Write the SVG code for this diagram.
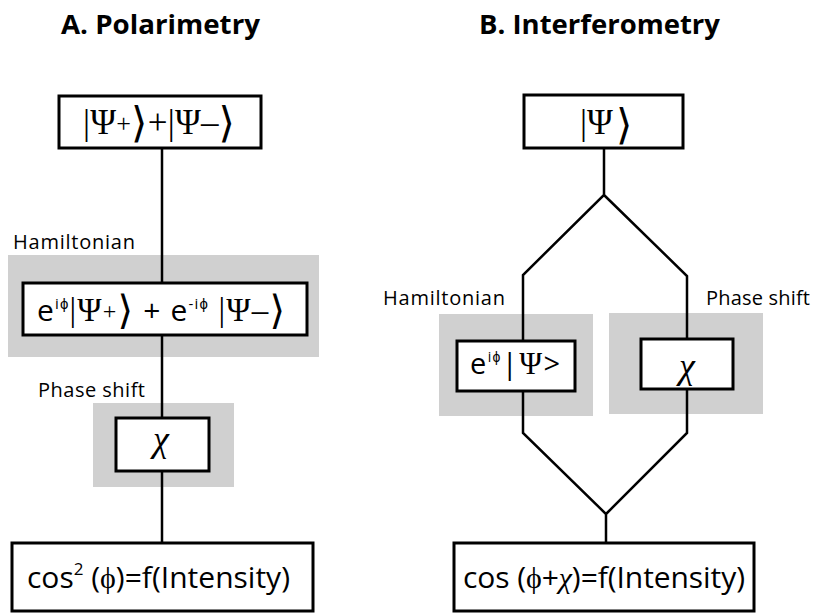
<svg xmlns="http://www.w3.org/2000/svg" width="815" height="614" viewBox="0 0 815 614">
<style>
.shade{fill:#d0d0d0}
.box{fill:#fff;stroke:#000;stroke-width:3}
.wire{fill:none;stroke:#000;stroke-width:2.5;stroke-linejoin:miter;stroke-miterlimit:10}
.title{font-family:'Open Sans','Liberation Sans',sans-serif;font-weight:bold;font-size:27px;fill:#000}
.lbl{font-family:'Open Sans','Liberation Sans',sans-serif;font-size:20px;fill:#000}
.sans{font-family:'Open Sans','Liberation Sans',sans-serif;fill:#000}
.ser{font-family:'Liberation Serif','DejaVu Serif',serif}
.br{font-family:'DejaVu Sans','Liberation Serif',serif}
</style>
<rect width="815" height="614" fill="#fff"/>
<g id="titles">
<text class="title" x="61" y="34" textLength="199" lengthAdjust="spacingAndGlyphs">A. Polarimetry</text>
<text class="title" x="479" y="34" textLength="241" lengthAdjust="spacingAndGlyphs">B. Interferometry</text>
</g>
<g id="a-input">
<rect class="box" x="59" y="96" width="202" height="52"/>
<text class="ser" x="83" y="134" font-size="35" textLength="152">|Ψ<tspan font-size="26" dy="-2">+</tspan><tspan class="br" font-size="42" dy="5">⟩</tspan><tspan dy="-3">+|Ψ–</tspan><tspan class="br" font-size="42" dy="3">⟩</tspan></text>
</g>
<g id="a-hamiltonian">
<rect class="shade" x="8" y="255" width="311" height="102"/>
<text class="lbl" x="13" y="249" textLength="122">Hamiltonian</text>
<rect class="box" x="23" y="283" width="284" height="52"/>
<text class="sans" x="37" y="321" font-size="30" textLength="248">e<tspan font-size="15" dy="-12">iϕ</tspan><tspan class="ser" font-size="33" dy="12">|Ψ</tspan><tspan class="ser" font-size="24" dy="-2">+</tspan><tspan class="br" font-size="40" dy="5">⟩</tspan><tspan dy="-3">  +  e</tspan><tspan font-size="15" dy="-12">-iϕ</tspan><tspan class="ser" font-size="33" dy="12"> |Ψ–</tspan><tspan class="br" font-size="40" dy="3">⟩</tspan></text>
</g>
<g id="a-phase">
<rect class="shade" x="93" y="403" width="141" height="84"/>
<text class="lbl" x="38" y="397" textLength="107">Phase shift</text>
<rect class="box" x="116" y="418" width="93" height="53"/>
<text class="ser" x="161" y="451" font-size="36" text-anchor="middle" font-style="italic">χ</text>
</g>
<g id="a-output">
<rect class="box" x="12" y="543" width="301" height="68"/>
<text class="sans" x="27" y="588" font-size="30" textLength="263">cos<tspan font-size="17" dy="-13">2</tspan><tspan dy="13"> (</tspan><tspan class="ser">ϕ</tspan>)=f(Intensity)</text>
</g>
<g id="b-input">
<rect class="box" x="524" y="95" width="159" height="53"/>
<text class="ser" x="580" y="134" font-size="35">|Ψ<tspan class="br" font-size="42" x="616" dy="5">⟩</tspan></text>
</g>
<g id="b-hamiltonian">
<rect class="shade" x="439" y="314" width="154" height="102"/>
<text class="lbl" x="383" y="305" textLength="122">Hamiltonian</text>
<rect class="box" x="457" y="341" width="118" height="50"/>
<text class="sans" x="470" y="374" font-size="29" textLength="90">e<tspan font-size="14" dy="-12">iϕ</tspan><tspan dy="12">|</tspan><tspan class="ser" font-size="31">Ψ</tspan>&gt;</text>
</g>
<g id="b-phase">
<rect class="shade" x="609" y="313" width="154" height="101"/>
<text class="lbl" x="706" y="305" textLength="104">Phase shift</text>
<rect class="box" x="641" y="339" width="92" height="50"/>
<text class="ser" x="687" y="378" font-size="36" text-anchor="middle" font-style="italic">χ</text>
</g>
<g id="b-output">
<rect class="box" x="454" y="543" width="300" height="68"/>
<text class="sans" x="463" y="588" font-size="30" textLength="282">cos (<tspan class="ser">ϕ</tspan>+<tspan class="ser" font-style="italic">χ</tspan>)=f(Intensity)</text>
</g>
<g id="connectors">
<path class="wire" d="M162 148V283M162 335V418M162 471V543"/>
<path class="wire" d="M604 148V195L523 275V341M604 195L687 276V339"/>
<path class="wire" d="M523 391V433L606 514V543M687 389V433L606 514"/>
</g>
</svg>
